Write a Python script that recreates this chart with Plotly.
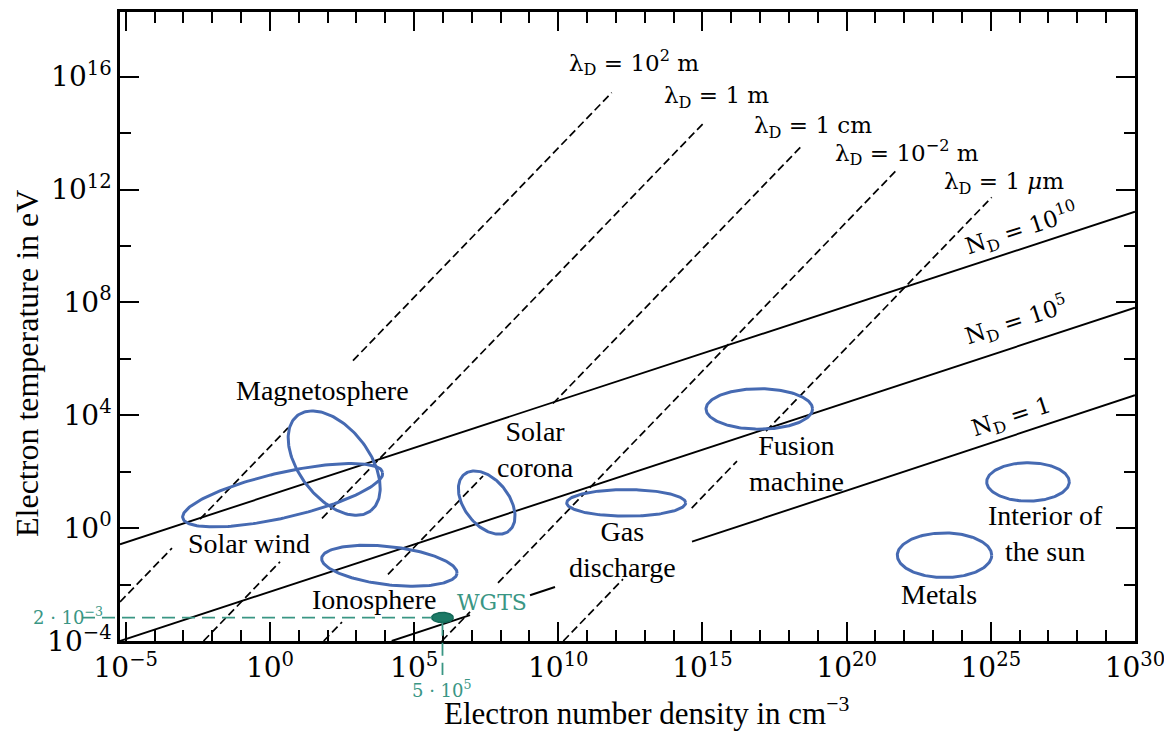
import numpy as np
import plotly.graph_objects as go

# ---------------- data (log10 of n [cm^-3] and T [eV]) ----------------
# Debye-length lines (dashed): end points and the stretches that are visible
lambda_names = ["λ<sub>D</sub> = 10<sup>2</sup> m", "λ<sub>D</sub> = 1 m", "λ<sub>D</sub> = 1 cm",
                "λ<sub>D</sub> = 10<sup>−2</sup> m", "λ<sub>D</sub> = 1 <i>μ</i>m"]
lambda_logn_ends = [[-5.2, 11.852], [-2.304, 15.053], [1.864, 18.441], [5.963, 21.736], [10.174, 25.031]]
lambda_logT_ends = [[-2.617, 15.433], [-4.0, 14.369], [-4.0, 13.543], [-4.0, 12.691], [-4.0, 11.723]]
lambda_visible_logn = [
    [[-5.2, -3.397], [-2.426, 0.626], [2.880, 11.852]],
    [[-2.304, 0.349], [1.805, 15.053]],
    [[1.864, 2.499], [4.094, 7.389], [9.816, 18.441]],
    [[5.963, 6.938], [7.909, 21.736]],
    [[10.174, 12.244], [14.626, 16.197], [17.203, 25.031]],
]

# Plasma-parameter lines (solid)
nd_names = ["N<sub>D</sub> = 10<sup>10</sup>", "N<sub>D</sub> = 10<sup>5</sup>", "N<sub>D</sub> = 1"]
nd_logn_ends = [[-5.2, 30.0], [-5.2, 30.0], [4.223, 30.0]]
nd_logT_ends = [[-0.571, 11.213], [-4.0, 7.809], [-4.0, 4.709]]
nd_visible_logn = [
    [[-5.2, 30.0]],
    [[-5.2, 30.0]],
    [[4.223, 6.938], [9.019, 9.886], [14.637, 30.0]],
]

# Plasma regions (ellipses): centre, semi-axes (in decades of n), tilt in degrees
region_names = ["Magnetosphere", "Solar wind", "Ionosphere", "Solar corona",
                "Gas discharge", "Fusion machine", "Interior of the sun", "Metals"]
region_logn = [2.228, 0.442, 4.141, 7.517, 12.355, 16.971, 26.289, 23.394]
region_logT = [2.305, 1.167, -1.333, 0.906, 0.894, 4.223, 1.638, -0.961]
region_a = [2.084, 3.555, 2.362, 1.252, 2.063, 1.848, 1.432, 1.637]
region_b = [1.217, 0.780, 0.662, 0.777, 0.461, 0.701, 0.666, 0.773]
region_tilt = [-52.4, 12.9, -6.5, -52.2, 0.0, 0.0, 0.0, 0.0]

# WGTS operating point
wgts_logn = 5.984
wgts_logT = -3.170
wgts_a = 0.375
wgts_b = 0.177

# axes
x_major = [-5, 0, 5, 10, 15, 20, 25, 30]
y_major = [-4, 0, 4, 8, 12, 16]
x_minor = [k for k in range(-5, 31) if k not in x_major]
y_minor = [-2, 2, 6, 10, 14]
x_range = [-5.2, 30.0]
y_range = [-4.0, 18.29]

# ---------------- layout constants ----------------
W, H = 1164, 731
ML, MR, MT, MB = 120, 29, 12, 90
PW, PH = W - ML - MR, H - MT - MB
ppx = PW / (x_range[1] - x_range[0])
ppy = PH / (y_range[1] - y_range[0])

BLUE = "rgb(70,106,178)"
TEAL = "rgb(58,150,132)"
TEAL_DARK = "rgb(28,122,102)"
SERIF = "Liberation Serif, Times New Roman, serif"
MATH = "DejaVu Serif, serif"


def sup(k):
    return "10<sup>" + (str(k) if k >= 0 else "−" + str(-k)) + "</sup>"


def line_points(n_ends, t_ends, visible):
    xs, ys = [], []
    n0, n1 = n_ends
    t0, t1 = t_ends
    for a, b in visible:
        for v in (a, b):
            xs.append(10.0 ** v)
            ys.append(10.0 ** (t0 + (t1 - t0) * (v - n0) / (n1 - n0)))
        xs.append(None)
        ys.append(None)
    return xs, ys


def ellipse(cn, ct, a, b, tilt):
    t = np.linspace(0, 2 * np.pi, 181)
    th = np.radians(tilt)
    dx = a * np.cos(t) * np.cos(th) - b * np.sin(t) * np.sin(th)   # decades (x units)
    dy = (a * np.cos(t) * np.sin(th) + b * np.sin(t) * np.cos(th)) * ppx / ppy
    return 10.0 ** (cn + dx), 10.0 ** (ct + dy)


fig = go.Figure()

for i in range(len(lambda_names)):
    xs, ys = line_points(lambda_logn_ends[i], lambda_logT_ends[i], lambda_visible_logn[i])
    fig.add_trace(go.Scatter(x=xs, y=ys, mode="lines", hoverinfo="skip",
                             line=dict(color="black", width=1.7, dash="8px,4px")))

for i in range(len(nd_names)):
    xs, ys = line_points(nd_logn_ends[i], nd_logT_ends[i], nd_visible_logn[i])
    fig.add_trace(go.Scatter(x=xs, y=ys, mode="lines", hoverinfo="skip",
                             line=dict(color="black", width=1.9)))

for i in range(len(region_names)):
    ex, ey = ellipse(region_logn[i], region_logT[i], region_a[i], region_b[i], region_tilt[i])
    fig.add_trace(go.Scatter(x=ex, y=ey, mode="lines", name=region_names[i], hoverinfo="name",
                             line=dict(color=BLUE, width=3)))

wx, wy = ellipse(wgts_logn, wgts_logT, wgts_a, wgts_b, 0.0)
fig.add_trace(go.Scatter(x=wx, y=wy, mode="lines", fill="toself", fillcolor=TEAL_DARK,
                         line=dict(color="rgb(20,105,88)", width=1.5), name="WGTS"))


def px_(lx):
    return (lx - x_range[0]) / (x_range[1] - x_range[0])


def py_(ly):
    return (ly - y_range[0]) / (y_range[1] - y_range[0])


# WGTS guide lines
fig.add_shape(type="line", xref="paper", yref="paper",
              x0=-38 / PW, x1=px_(wgts_logn - wgts_a), y0=py_(wgts_logT), y1=py_(wgts_logT),
              line=dict(color=TEAL, width=1.8, dash="13px,7px"))
fig.add_shape(type="line", xref="paper", yref="paper",
              x0=px_(wgts_logn), x1=px_(wgts_logn),
              y0=py_(wgts_logT - wgts_b * ppx / ppy), y1=-34 / PH,
              line=dict(color=TEAL, width=1.8, dash="13px,7px"))

ann = []
C = dict(xanchor="center", yanchor="middle", showarrow=False)
lam_pos = [(12.626, 16.486), (15.487, 15.280), (18.833, 14.216), (22.093, 13.294), (25.457, 12.248)]
for name, (x, y) in zip(lambda_names, lam_pos):
    ann.append(dict(x=x, y=y, text=name, font=dict(family=MATH, size=23, color="black"), **C))
nd_pos = [(26.081, 10.635), (25.873, 7.372), (25.735, 3.897)]
for name, (x, y) in zip(nd_names, nd_pos):
    ann.append(dict(x=x, y=y, text=name, textangle=-18,
                    font=dict(family=MATH, size=23, color="black"), **C))
lab = [("Magnetosphere", 1.823, 4.890), ("Solar wind", -0.726, -0.535), ("Ionosphere", 3.609, -2.521),
       ("Solar<br>corona", 9.192, 2.798), ("Gas<br>discharge", 12.227, -0.748),
       ("Fusion<br>machine", 18.278, 2.301), ("Interior of<br>the sun", 26.879, -0.181),
       ("Metals", 23.192, -2.344)]
for t, x, y in lab:
    ann.append(dict(x=x, y=y, text=t, font=dict(family=SERIF, size=28, color="black"), **C))
ann.append(dict(x=7.701, y=-2.645, text="WGTS", font=dict(family=MATH, size=22, color=TEAL), **C))
ann.append(dict(xref="paper", x=0, xshift=-15, xanchor="right", y=wgts_logT, yshift=2, yanchor="middle",
                text="2 · 10<sup>−3</sup>", showarrow=False, font=dict(family=MATH, size=18, color=TEAL)))
ann.append(dict(x=wgts_logn, yref="paper", y=0, yshift=-48, xanchor="center", yanchor="middle",
                text="5 · 10<sup>5</sup>", showarrow=False, font=dict(family=MATH, size=18, color=TEAL)))
# axis titles
ann.append(dict(xref="paper", yref="paper", x=(646 - ML) / PW, y=-(711 - (MT + PH)) / PH,
                text="Electron number density in cm<sup>−3</sup>",
                font=dict(family=SERIF, size=31, color="black"), **C))
ann.append(dict(xref="paper", yref="paper", x=(27 - ML) / PW, y=((MT + PH) - 364) / PH, textangle=-90,
                text="Electron temperature in eV",
                font=dict(family=SERIF, size=32, color="black"), **C))

axis_common = dict(type="log", ticks="inside", ticklen=19, tickwidth=2, tickcolor="black",
                   showline=True, linewidth=2.5, linecolor="black", mirror="ticks",
                   showgrid=False, zeroline=False, ticklabeloverflow="allow", automargin=False,
                   tickfont=dict(family=MATH, size=28, color="black"))

fig.update_layout(
    width=W, height=H, margin=dict(l=ML, r=MR, t=MT, b=MB, autoexpand=False),
    paper_bgcolor="white", plot_bgcolor="white", showlegend=False,
    xaxis=dict(range=x_range, tickvals=[10.0 ** k for k in x_major], ticktext=[sup(k) for k in x_major],
               minor=dict(tickvals=[10.0 ** k for k in x_minor], ticks="inside", ticklen=11,
                          tickwidth=2, tickcolor="black", showgrid=False),
               **axis_common),
    yaxis=dict(range=y_range, tickvals=[10.0 ** k for k in y_major], ticktext=[sup(k) for k in y_major],
               minor=dict(tickvals=[10.0 ** k for k in y_minor], ticks="inside", ticklen=11,
                          tickwidth=2, tickcolor="black", showgrid=False),
               **axis_common),
    annotations=ann,
)

fig.write_html("out.html", config={"displayModeBar": False},
               post_script="document.body.style.margin='0px';")
